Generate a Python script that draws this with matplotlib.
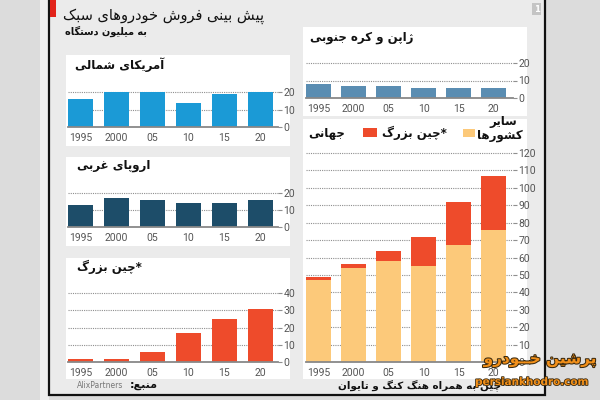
import matplotlib
matplotlib.use('Agg')
import matplotlib.pyplot as plt
import matplotlib.patheffects as pe
from matplotlib.patches import Rectangle

years = ['1995', '2000', '05', '10', '15', '20']
north_america = [16, 20, 20, 14, 19, 20]
western_europe = [13, 17, 16, 14, 14, 16]
greater_china = [2, 2, 6, 17, 25, 31]
japan_korea = [8, 7, 7, 6, 6, 6]
world_rest = [47, 54, 58, 55, 67, 76]
world_china = [2, 2, 6, 17, 25, 31]

NUM_FONT = ['Liberation Sans Narrow', 'Roboto', 'DejaVu Sans']

# persian letters -> (isolated, final, initial, medial) presentation forms
FORMS = {
    'ا': (0xFE8D, 0xFE8E, None, None),
    'آ': (0xFE81, 0xFE82, None, None),
    'ب': (0xFE8F, 0xFE90, 0xFE91, 0xFE92),
    'پ': (0xFB56, 0xFB57, 0xFB58, 0xFB59),
    'ت': (0xFE95, 0xFE96, 0xFE97, 0xFE98),
    'ج': (0xFE9D, 0xFE9E, 0xFE9F, 0xFEA0),
    'چ': (0xFB7A, 0xFB7B, 0xFB7C, 0xFB7D),
    'خ': (0xFEA5, 0xFEA6, 0xFEA7, 0xFEA8),
    'د': (0xFEA9, 0xFEAA, None, None),
    'ر': (0xFEAD, 0xFEAE, None, None),
    'ز': (0xFEAF, 0xFEB0, None, None),
    'ژ': (0xFB8A, 0xFB8B, None, None),
    'س': (0xFEB1, 0xFEB2, 0xFEB3, 0xFEB4),
    'ش': (0xFEB5, 0xFEB6, 0xFEB7, 0xFEB8),
    'ع': (0xFEC9, 0xFECA, 0xFECB, 0xFECC),
    'غ': (0xFECD, 0xFECE, 0xFECF, 0xFED0),
    'ف': (0xFED1, 0xFED2, 0xFED3, 0xFED4),
    'ک': (0xFB8E, 0xFB8F, 0xFB90, 0xFB91),
    'گ': (0xFB92, 0xFB93, 0xFB94, 0xFB95),
    'ل': (0xFEDD, 0xFEDE, 0xFEDF, 0xFEE0),
    'م': (0xFEE1, 0xFEE2, 0xFEE3, 0xFEE4),
    'ن': (0xFEE5, 0xFEE6, 0xFEE7, 0xFEE8),
    'ه': (0xFEE9, 0xFEEA, 0xFEEB, 0xFEEC),
    'و': (0xFEED, 0xFEEE, None, None),
    'ی': (0xFBFC, 0xFBFD, 0xFBFE, 0xFBFF),
    'ـ': (0x0640, 0x0640, 0x0640, 0x0640),
}


def fa(s):
    # shape letters and put them in visual (left to right) order
    out = []
    for i, c in enumerate(s):
        if c not in FORMS:
            out.append(c)
            continue
        f = FORMS[c]
        prev = s[i - 1] if i > 0 else None
        nxt = s[i + 1] if i < len(s) - 1 else None
        jp = prev in FORMS and FORMS[prev][2] is not None
        jn = f[2] is not None and nxt in FORMS
        if jp and jn:
            g = f[3]
        elif jp:
            g = f[1]
        elif jn:
            g = f[2]
        else:
            g = f[0]
        out.append(chr(g))
    return ''.join(reversed(out))


W, H = 600, 400
fig = plt.figure(figsize=(6, 4), dpi=100)
fig.patch.set_facecolor('#dcdcdc')

bg = fig.add_axes([0, 0, 1, 1])
bg.set_xlim(0, W)
bg.set_ylim(H, 0)
bg.axis('off')

bg.add_patch(Rectangle((40, 0), 9, H, facecolor='#eeeeee', lw=0))
bg.add_patch(Rectangle((49, -5), 496, 400, facecolor='#ebebeb', edgecolor='#111111', lw=1.6))
bg.add_patch(Rectangle((50, 0), 6, 17, facecolor='#e2231a', lw=0))
bg.add_patch(Rectangle((532, 3), 9, 12, facecolor='#c4c4c4', lw=0))
bg.text(536.5, 9.5, '1', color='white', fontsize=6, ha='center', va='center', weight='bold')

# white panels
for x0, y0, x1, y1 in [(66, 55, 290, 146), (66, 157, 290, 246), (66, 258, 290, 379),
                       (303, 27, 527, 116), (303, 119, 527, 379)]:
    bg.add_patch(Rectangle((x0, y0), x1 - x0, y1 - y0, facecolor='white', lw=0))

dark = '#111111'
bg.text(63, 16, fa('پیش بینی فروش خودروهای سبک'), fontsize=10.5, ha='left', va='center', color=dark)
bg.text(65, 31, fa('به میلیون دستگاه'), fontsize=7, weight='bold', ha='left', va='center', color=dark)

bg.text(75, 65, fa('آمریکای شمالی'), fontsize=8.5, weight='bold', ha='left', va='center', color=dark)
bg.text(77, 166, fa('اروپای غربی'), fontsize=8.5, weight='bold', ha='left', va='center', color=dark)
bg.text(77, 267, fa('*چین بزرگ'), fontsize=8.5, weight='bold', ha='left', va='center', color=dark)
bg.text(310, 38, fa('ژاپن و کره جنوبی'), fontsize=8.5, weight='bold', ha='left', va='center', color=dark)

# legend of the world chart
bg.text(308, 133, fa('جهانی'), fontsize=8.5, weight='bold', ha='left', va='center', color=dark)
bg.add_patch(Rectangle((363, 128), 14, 9, facecolor='#ee4b2b', lw=0))
bg.text(382, 133, fa('*چین بزرگ'), fontsize=8.5, weight='bold', ha='left', va='center', color=dark)
bg.add_patch(Rectangle((463, 129), 12, 8, facecolor='#fcc97a', lw=0))
bg.text(503, 122, fa('سایر'), fontsize=8.5, weight='bold', ha='center', va='center', color=dark)
bg.text(500, 136, fa('کشورها'), fontsize=8.5, weight='bold', ha='center', va='center', color=dark)

bg.text(158, 385, fa('منبع:'), fontsize=8, weight='bold', ha='right', va='center', color=dark)
bg.text(123, 385, 'AlixPartners', fontsize=5.5, ha='right', va='center', color='#777777')
bg.text(507, 386, fa('*چین به همراه هنگ کنگ و تایوان'), fontsize=7.5, weight='bold',
        ha='right', va='center', color=dark)


def px_axes(x0, y0, x1, y1):
    ax = fig.add_axes([x0 / W, 1 - y1 / H, (x1 - x0) / W, (y1 - y0) / H])
    ax.set_facecolor('none')
    return ax


def style(ax, top, step, xmax):
    ax.set_xlim(-0.36, xmax)
    ax.set_ylim(0, top)
    ticks = list(range(0, top + 1, step))
    for v in ticks[1:]:
        ax.axhline(v, color='#8f8f8f', lw=0.8, ls=(0, (1, 1)), zorder=1, clip_on=False)
    ax.axhline(0, color='#888888', lw=1.3, zorder=3, clip_on=False)
    ax.set_yticks(ticks)
    ax.yaxis.tick_right()
    ax.set_xticks(range(len(years)))
    ax.set_xticklabels(years)
    ax.tick_params(axis='y', length=3, width=0.8, color='#8f8f8f', labelsize=7.5, labelcolor='#555555', pad=1)
    ax.tick_params(axis='x', length=0, labelsize=7.5, labelcolor='#555555', pad=4)
    for lab in ax.get_xticklabels() + ax.get_yticklabels():
        lab.set_family(NUM_FONT)
    for s in ax.spines.values():
        s.set_visible(False)


x = range(len(years))

ax = px_axes(68, 92, 278, 127)
ax.bar(x, north_america, width=0.7, color='#1b9ad6', zorder=2)
style(ax, 20, 10, 5.5)

ax = px_axes(68, 193, 278, 227)
ax.bar(x, western_europe, width=0.7, color='#1d4d69', zorder=2)
style(ax, 20, 10, 5.5)

ax = px_axes(68, 293, 278, 362)
ax.bar(x, greater_china, width=0.7, color='#ee4b2b', zorder=2)
style(ax, 40, 10, 5.5)

ax = px_axes(306, 63, 513, 98)
ax.bar(x, japan_korea, width=0.7, color='#5a8db2', zorder=2)
style(ax, 20, 10, 5.55)

ax = px_axes(306, 153, 513, 362)
ax.bar(x, world_rest, width=0.7, color='#fcc97a', zorder=2)
ax.bar(x, world_china, width=0.7, bottom=world_rest, color='#ee4b2b', zorder=2)
style(ax, 120, 10, 5.55)

# watermark
wm = fig.add_axes([0, 0, 1, 1])
wm.set_xlim(0, W)
wm.set_ylim(H, 0)
wm.axis('off')
wm.text(596, 360, fa('پرشین خــودرو'), fontsize=11, weight='bold', ha='right', va='center',
        color='#f39019', path_effects=[pe.withStroke(linewidth=1.5, foreground='#3a2a10')])
wm.text(589, 382, 'persiankhodro.com', fontsize=7.5, weight='bold', ha='right', va='center',
        color='#f39019', path_effects=[pe.withStroke(linewidth=1.2, foreground='#3a2a10')])

fig.savefig('out.png', dpi=100, facecolor=fig.get_facecolor())
